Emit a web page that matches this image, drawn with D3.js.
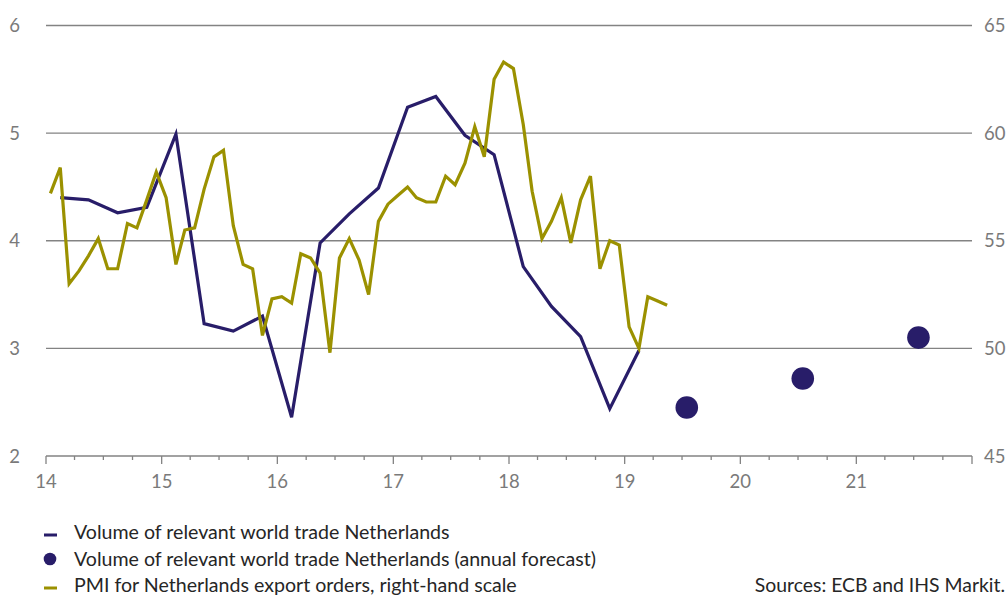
<!DOCTYPE html>
<html>
<head>
<meta charset="utf-8">
<script src="https://cdn.jsdelivr.net/npm/d3@7"></script>
<style>
  html, body { margin: 0; padding: 0; background: #ffffff; }
  svg { display: block; font-family: Lato, "Open Sans", sans-serif; }
</style>
</head>
<body>
<svg id="chart" width="1008" height="596"></svg>
<script>
// Volume of relevant world trade for the Netherlands (quarterly, % y-o-y), dated at mid-quarter
const tradeDates = [
  "2014-02-15","2014-05-15","2014-08-15","2014-11-15",
  "2015-02-15","2015-05-15","2015-08-15","2015-11-15",
  "2016-02-15","2016-05-15","2016-08-15","2016-11-15",
  "2017-02-15","2017-05-15","2017-08-15","2017-11-15",
  "2018-02-15","2018-05-15","2018-08-15","2018-11-15",
  "2019-02-15"
];
const tradeValues = [
  4.40, 4.38, 4.26, 4.31,
  4.99, 3.23, 3.16, 3.30,
  2.36, 3.98, 4.25, 4.49,
  5.24, 5.34, 4.98, 4.80,
  3.76, 3.39, 3.11, 2.44,
  2.98
];

// Annual forecasts of the same series
const forecastDates = ["2019-07-16", "2020-07-16", "2021-07-16"];
const forecastValues = [2.45, 2.72, 3.10];

// PMI export orders (monthly, right-hand scale), Jan 2014 – May 2019
const pmiStart = "2014-01-15";
const pmiValues = [
  57.2, 58.4, 53.0, 53.6, 54.3, 55.1, 53.7, 53.7, 55.8, 55.6, 56.9, 58.2,
  57.0, 53.9, 55.5, 55.6, 57.4, 58.9, 59.2, 55.7, 53.9, 53.7, 50.6, 52.3,
  52.4, 52.1, 54.4, 54.2, 53.5, 49.8, 54.2, 55.1, 54.1, 52.5, 55.9, 56.7,
  57.1, 57.5, 57.0, 56.8, 56.8, 58.0, 57.6, 58.6, 60.3, 58.9, 62.5, 63.3,
  63.0, 60.4, 57.3, 55.1, 55.9, 57.0, 54.9, 56.9, 58.0, 53.7, 55.0, 54.8,
  51.0, 50.0, 52.4, 52.2, 52.0
];

// Axis ticks
const leftTicks = [2, 3, 4, 5, 6];
const rightTicks = [45, 50, 55, 60, 65];
const yearLabels = ["14", "15", "16", "17", "18", "19", "20", "21"];

const legendItems = [
  { type: "line", color: "#281d69", label: "Volume of relevant world trade Netherlands" },
  { type: "dot", color: "#281d69", label: "Volume of relevant world trade Netherlands (annual forecast)" },
  { type: "line", color: "#9b9100", label: "PMI for Netherlands export orders, right-hand scale" }
];
const sourceNote = "Sources: ECB and IHS Markit.";

const parse = d3.timeParse("%Y-%m-%d");
const navy = "#281d69";
const olive = "#9b9100";
const gridColor = "#838383";
const labelColor = "#7a7a7a";
const textColor = "#262626";

const svg = d3.select("#chart");
const plotLeft = 46, plotRight = 972, plotTop = 25.5, plotBottom = 456;

const x = d3.scaleTime()
  .domain([new Date(2014, 0, 1), new Date(2022, 0, 1)])
  .range([plotLeft, plotRight]);
const yL = d3.scaleLinear().domain([2, 6]).range([plotBottom, plotTop]);
const yR = d3.scaleLinear().domain([45, 65]).range([plotBottom, plotTop]);

// Horizontal gridlines
svg.append("g")
  .selectAll("line")
  .data(leftTicks.slice(1))
  .join("line")
  .attr("x1", plotLeft).attr("x2", plotRight)
  .attr("y1", d => yL(d)).attr("y2", d => yL(d))
  .attr("stroke", gridColor).attr("stroke-width", 1.3);

// Left axis labels
svg.append("g")
  .selectAll("text")
  .data(leftTicks)
  .join("text")
  .attr("x", 20).attr("y", d => yL(d))
  .attr("dy", "0.36em")
  .attr("text-anchor", "end")
  .attr("fill", labelColor)
  .attr("font-size", 18.5)
  .text(d => d);

// Right axis labels
svg.append("g")
  .selectAll("text")
  .data(rightTicks)
  .join("text")
  .attr("x", 984).attr("y", d => yR(d))
  .attr("dy", "0.36em")
  .attr("text-anchor", "start")
  .attr("fill", labelColor)
  .attr("font-size", 18.5)
  .text(d => d);

// Bottom axis: yearly major ticks and quarterly minor ticks
const yearTicks = d3.timeYear.range(new Date(2014, 0, 1), new Date(2022, 0, 2));
const quarterTicks = d3.timeMonth.every(3).range(new Date(2014, 0, 1), new Date(2022, 0, 1))
  .filter(d => d.getMonth() !== 0);

const axis = svg.append("g");
axis.append("line")
  .attr("x1", plotLeft).attr("x2", plotRight)
  .attr("y1", plotBottom).attr("y2", plotBottom)
  .attr("stroke", gridColor).attr("stroke-width", 1.3);
axis.selectAll("line.major")
  .data(yearTicks)
  .join("line").attr("class", "major")
  .attr("x1", d => x(d)).attr("x2", d => x(d))
  .attr("y1", plotBottom).attr("y2", plotBottom + 8)
  .attr("stroke", gridColor).attr("stroke-width", 1.3);
axis.selectAll("line.minor")
  .data(quarterTicks)
  .join("line").attr("class", "minor")
  .attr("x1", d => x(d)).attr("x2", d => x(d))
  .attr("y1", plotBottom).attr("y2", plotBottom + 4)
  .attr("stroke", gridColor).attr("stroke-width", 1.3);
axis.selectAll("text")
  .data(yearLabels)
  .join("text")
  .attr("x", (d, i) => x(yearTicks[i]))
  .attr("y", 488)
  .attr("text-anchor", "middle")
  .attr("fill", labelColor)
  .attr("font-size", 18.5)
  .text(d => d);

// World trade line
const tradeData = tradeDates.map((d, i) => ({ date: parse(d), value: tradeValues[i] }));
svg.append("path")
  .datum(tradeData)
  .attr("fill", "none")
  .attr("stroke", navy)
  .attr("stroke-width", 3.2)
  .attr("stroke-linejoin", "miter")
  .attr("d", d3.line().x(d => x(d.date)).y(d => yL(d.value)));

// PMI line on right-hand scale
const pmiFirst = parse(pmiStart);
const pmiData = pmiValues.map((v, i) => ({ date: d3.timeMonth.offset(pmiFirst, i), value: v }));
svg.append("path")
  .datum(pmiData)
  .attr("fill", "none")
  .attr("stroke", olive)
  .attr("stroke-width", 3.2)
  .attr("stroke-linejoin", "miter")
  .attr("d", d3.line().x(d => x(d.date)).y(d => yR(d.value)));

// Forecast dots
svg.append("g")
  .selectAll("circle")
  .data(forecastDates.map((d, i) => ({ date: parse(d), value: forecastValues[i] })))
  .join("circle")
  .attr("cx", d => x(d.date))
  .attr("cy", d => yL(d.value))
  .attr("r", 11.3)
  .attr("fill", navy);

// Legend
const legend = svg.append("g");
legendItems.forEach((item, i) => {
  const baseline = 539 + i * 26.5;
  const mid = baseline - 5;
  if (item.type === "line") {
    legend.append("line")
      .attr("x1", 44).attr("x2", 57)
      .attr("y1", mid + 1).attr("y2", mid + 1)
      .attr("stroke", item.color).attr("stroke-width", 3);
  } else {
    legend.append("circle")
      .attr("cx", 50).attr("cy", mid - 1.5)
      .attr("r", 6.3)
      .attr("fill", item.color);
  }
  legend.append("text")
    .attr("x", 74).attr("y", baseline)
    .attr("fill", textColor)
    .attr("font-size", 19.6)
    .text(item.label);
});

svg.append("text")
  .attr("x", 1005).attr("y", 592)
  .attr("text-anchor", "end")
  .attr("fill", textColor)
  .attr("font-size", 19.4)
  .text(sourceNote);
</script>
</body>
</html>
